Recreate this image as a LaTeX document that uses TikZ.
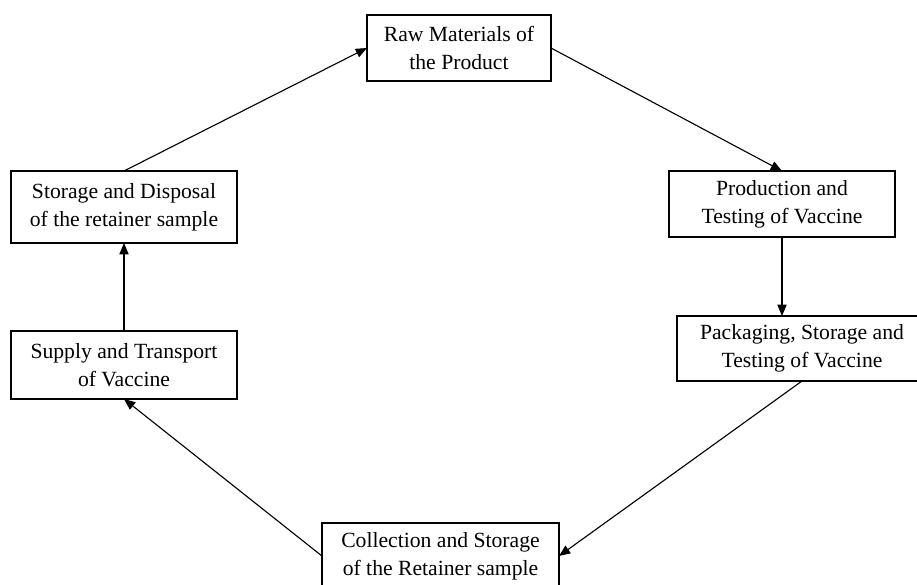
\documentclass[tikz,border=0pt]{standalone}
\usepackage{fontspec}
\setmainfont{Liberation Serif}
\usetikzlibrary{arrows.meta}

\begin{document}
\begin{tikzpicture}[
        x=0.025cm, y=-0.025cm,
        block/.style={
            rectangle,
            draw,
            line width=0.8pt,
            align=center,
            inner sep=0pt,
            outer sep=0pt,
            minimum width=5.65cm,
            minimum height=1.65cm,
            font=\fontsize{15.4}{19.9}\selectfont
        },
        arrow/.style={
            -{Triangle[length=8pt,width=6.5pt]},
            line width=0.8pt
        }
    ]

        \useasboundingbox (0,0) rectangle (917,585);

        \node[block, minimum width=4.6cm] (raw) at (459,48) {Raw Materials of\\the Product};
        \node[block] (prod) at (782,204) {Production and\\Testing of Vaccine};
        \node[block, minimum width=6.25cm, minimum height=1.625cm] (pack) at (802,348.5) {Packaging, Storage and\\Testing of Vaccine};
        \node[block, minimum width=5.925cm] (coll) at (440.5,556) {Collection and Storage\\of the Retainer sample};
        \node[block, minimum height=1.7cm] (supply) at (124,365) {Supply and Transport\\of Vaccine};
        \node[block, minimum height=1.8cm] (dispose) at (124,207) {Storage and Disposal\\of the retainer sample};

        \draw[arrow] (dispose.north) -- (raw.west);
        \draw[arrow] (raw.east) -- (prod.north);
        \draw[arrow] (prod.south) -- (prod.south |- pack.north);
        \draw[arrow] (pack.south) -- (coll.east);
        \draw[arrow] (coll.west) -- (supply.south);
        \draw[arrow] (supply.north) -- (dispose.south);

    \end{tikzpicture}
\end{document}
